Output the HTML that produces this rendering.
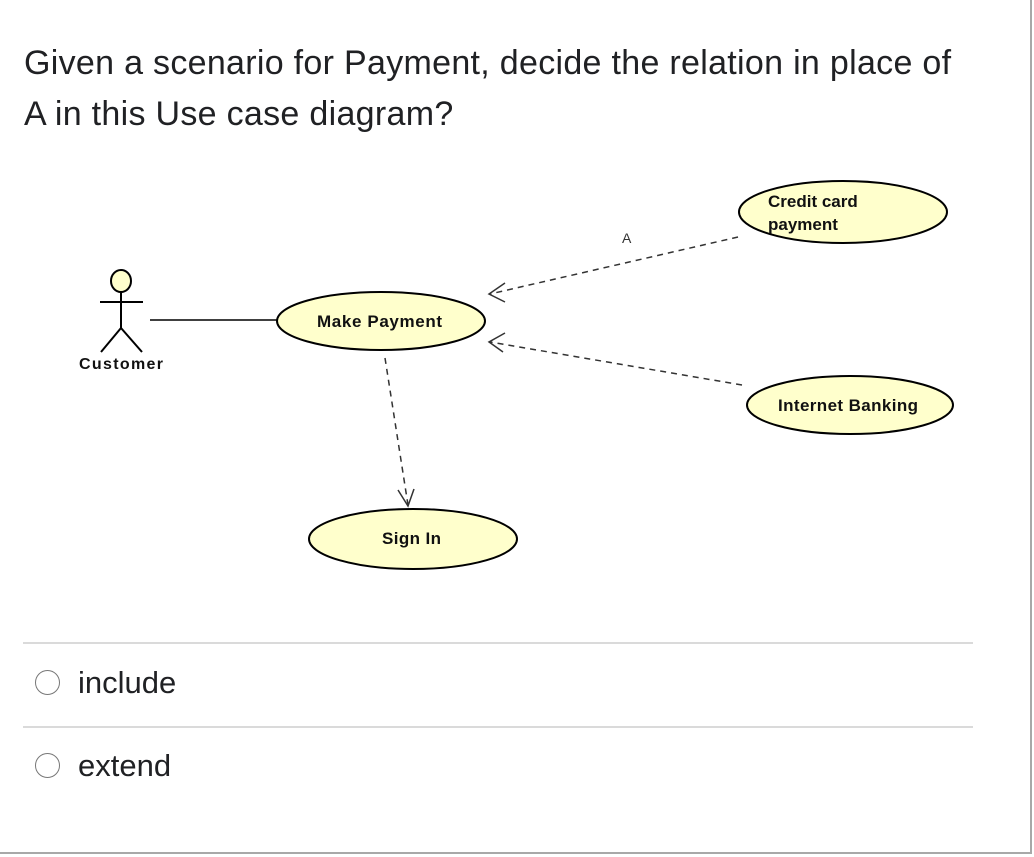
<!DOCTYPE html>
<html><head><meta charset="utf-8"><style>
html,body{margin:0;padding:0;background:#fff;}
body{width:1034px;height:857px;position:relative;overflow:hidden;font-family:"Liberation Sans",sans-serif;}
.frame{position:absolute;left:0;top:0;width:1030px;height:852px;border-right:2px solid #a8a8a8;border-bottom:2px solid #a8a8a8;}
.q{position:absolute;left:24px;top:38px;font-size:34px;letter-spacing:0.3px;line-height:51px;color:#202124;}
.hr{position:absolute;left:23px;width:950px;height:2px;background:#dadada;}
.opt{position:absolute;left:35px;font-size:31px;color:#202124;}
.opt span.r{display:inline-block;width:25px;height:25px;border:1.5px solid #777;border-radius:50%;vertical-align:middle;margin-right:18px;box-sizing:border-box;position:relative;top:-2px;}
</style></head><body>
<div class="frame"></div>
<div class="q">Given a scenario for Payment, decide the relation in place of<br>A in this Use case diagram?</div>
<svg style="position:absolute;left:0;top:0" width="1034" height="857">
<g stroke="#000" stroke-width="2" fill="#ffffcc">
<ellipse cx="843" cy="212" rx="104" ry="31"/>
<ellipse cx="381" cy="321" rx="104" ry="29"/>
<ellipse cx="850" cy="405" rx="103" ry="29"/>
<ellipse cx="413" cy="539" rx="104" ry="30"/>
<ellipse cx="121" cy="281" rx="10" ry="11"/>
</g>
<g stroke="#000" stroke-width="2" fill="none">
<line x1="100" y1="302" x2="143" y2="302"/>
<line x1="121" y1="292" x2="121" y2="328"/>
<line x1="121" y1="328" x2="101" y2="352"/>
<line x1="121" y1="328" x2="142" y2="352"/>
<line x1="150" y1="320" x2="277" y2="320" stroke-width="1.5"/>
</g>
<g stroke="#333" stroke-width="1.5" fill="none">
<line x1="738" y1="237" x2="490" y2="294" stroke-dasharray="6,5"/>
<polyline points="505,283 489,294 505,302"/>
<line x1="742" y1="385" x2="490" y2="342" stroke-dasharray="6,5"/>
<polyline points="505,333 489,342 503,352"/>
<line x1="385" y1="358" x2="408" y2="505" stroke-dasharray="6,5"/>
<polyline points="398,490 408,506 414,489"/>
</g>
<g font-family="Liberation Sans, sans-serif" font-weight="bold" font-size="17" fill="#111">
<text x="768" y="207">Credit card</text>
<text x="768" y="230">payment</text>
<text x="317" y="327" textLength="125">Make Payment</text>
<text x="778" y="411" textLength="140">Internet Banking</text>
<text x="382" y="544" textLength="59">Sign In</text>
<text x="79" y="369" font-size="16" textLength="84">Customer</text>
</g>
<text x="622" y="243" font-family="Liberation Sans, sans-serif" font-size="14" fill="#333">A</text>
</svg>
<div class="hr" style="top:642px"></div>
<div class="hr" style="top:726px"></div>
<div class="opt" style="top:665px"><span class="r"></span>include</div>
<div class="opt" style="top:748px"><span class="r"></span>extend</div>
</body></html>
